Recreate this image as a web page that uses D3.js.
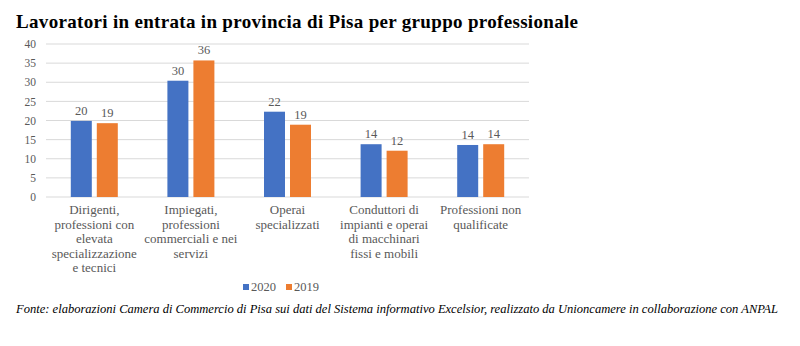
<!DOCTYPE html>
<html><head><meta charset="utf-8">
<script src="https://cdn.jsdelivr.net/npm/d3@7"></script>
<style>body{margin:0;background:#fff} svg text{font-family:'Liberation Serif','Times New Roman',serif}</style>
</head><body>
<svg id="c" width="800" height="346"></svg>
<script>
const categories = [
  ["Dirigenti,", "professioni con", "elevata", "specializzazione", "e tecnici"],
  ["Impiegati,", "professioni", "commerciali e nei", "servizi"],
  ["Operai", "specializzati"],
  ["Conduttori di", "impianti e operai", "di macchinari", "fissi e mobili"],
  ["Professioni non", "qualificate"]
];
const seriesNames = ["2020", "2019"];
const values2020 = [19.9, 30.4, 22.3, 13.8, 13.6];
const values2019 = [19.3, 35.7, 18.9, 12.1, 13.8];
const labels2020 = ["20", "30", "22", "14", "14"];
const labels2019 = ["19", "36", "19", "12", "14"];
const yTicks = [0, 5, 10, 15, 20, 25, 30, 35, 40];
const colors = ["#4472C4", "#ED7D31"];

const svg = d3.select("#c");
const serif = "'Liberation Serif', 'Times New Roman', serif";
const grey = "#595959";

svg.append("text").attr("x", 16).attr("y", 28)
  .style("font-family", serif).attr("font-weight", "bold").attr("font-size", 19)
  .attr("fill", "#000").attr("textLength", 562).attr("lengthAdjust", "spacing")
  .text("Lavoratori in entrata in provincia di Pisa per gruppo professionale");

const pLeft = 46, pRight = 529, pTop = 44, pBottom = 197;
const x = d3.scaleBand().domain(d3.range(categories.length)).range([pLeft, pRight]);
const y = d3.scaleLinear().domain([0, 40]).range([pBottom, pTop]);

const g = svg.append("g");
g.selectAll("line.grid").data(yTicks).enter().append("line")
  .attr("x1", pLeft).attr("x2", pRight)
  .attr("y1", d => y(d)).attr("y2", d => y(d))
  .attr("stroke", "#d9d9d9").attr("stroke-width", 1);

const yAxis = d3.axisLeft(y).tickValues(yTicks).tickSize(0).tickPadding(10);
const ya = svg.append("g").attr("transform", `translate(${pLeft},0)`).call(yAxis);
ya.attr("font-family", null);
ya.select(".domain").remove();
ya.selectAll("text").style("font-family", serif).attr("font-size", 11.5).attr("fill", grey);

const bw = 21, gap = 5;
const series = [values2020, values2019];
const lbls = [labels2020, labels2019];
series.forEach((vals, si) => {
  const off = si === 0 ? -(gap / 2 + bw) : gap / 2;
  svg.append("g").selectAll("rect").data(vals).enter().append("rect")
    .attr("x", (d, i) => x(i) + x.bandwidth() / 2 + off)
    .attr("y", d => y(d)).attr("width", bw).attr("height", d => y(0) - y(d))
    .attr("fill", colors[si]);
  svg.append("g").selectAll("text").data(vals).enter().append("text")
    .attr("x", (d, i) => x(i) + x.bandwidth() / 2 + off + bw / 2)
    .attr("y", d => y(d) - 6)
    .attr("text-anchor", "middle").style("font-family", serif).attr("font-size", 12.5)
    .attr("fill", grey).text((d, i) => lbls[si][i]);
});

categories.forEach((lines, i) => {
  const t = svg.append("text").attr("text-anchor", "middle")
    .style("font-family", serif).attr("font-size", 13).attr("fill", grey);
  lines.forEach((ln, j) => {
    t.append("tspan").attr("x", x(i) + x.bandwidth() / 2).attr("y", 214 + j * 14.5).text(ln);
  });
});

// legend
const legX = [243, 286];
seriesNames.forEach((n, i) => {
  svg.append("rect").attr("x", legX[i]).attr("y", 284).attr("width", 6).attr("height", 6).attr("fill", colors[i]);
  svg.append("text").attr("x", legX[i] + 8).attr("y", 291)
    .style("font-family", serif).attr("font-size", 12.5).attr("fill", grey).text(n);
});

svg.append("text").attr("x", 16).attr("y", 313)
  .style("font-family", serif).attr("font-style", "italic").attr("font-size", 11.5)
  .attr("fill", "#000").attr("textLength", 762).attr("lengthAdjust", "spacingAndGlyphs")
  .text("Fonte: elaborazioni Camera di Commercio di Pisa sui dati del Sistema informativo Excelsior, realizzato da Unioncamere in collaborazione con ANPAL");
</script>
</body></html>
